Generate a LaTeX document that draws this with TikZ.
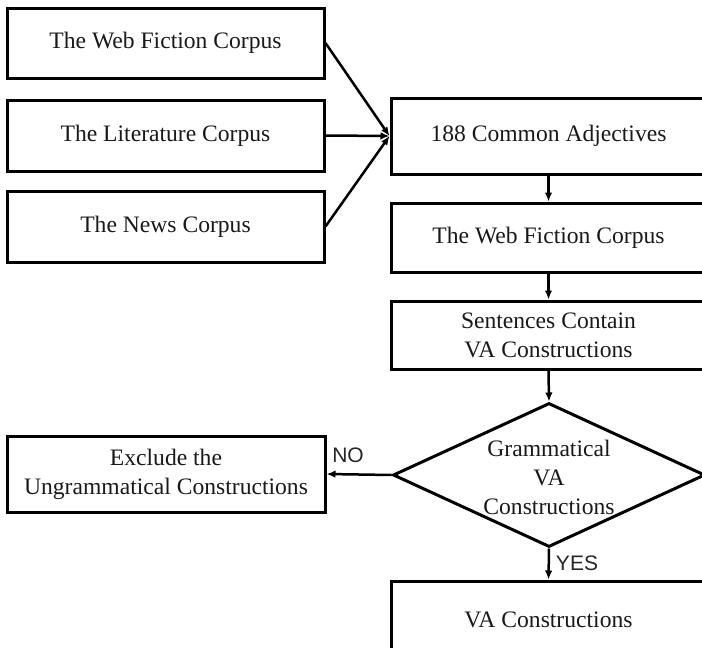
\documentclass[tikz,border=0pt]{standalone}
\usepackage{fontspec}
\setmainfont{Liberation Serif}
\newfontfamily\labelsans{Liberation Sans}
\usetikzlibrary{shapes.geometric,arrows.meta}
\begin{document}
\begin{tikzpicture}[x=0.5pt,y=-0.5pt,
  box/.style={draw, line width=1.5pt, rectangle, inner sep=0pt,
    font=\fontsize{11.8pt}{14.5pt}\selectfont, text=black!90, align=center},
  leftbox/.style={box, minimum width=158.5pt},
  rightbox/.style={box, minimum width=157.5pt},
  decision/.style={draw, line width=1.5pt, diamond, inner sep=0pt,
    minimum width=156pt, minimum height=72pt},
  plain/.style={inner sep=0pt, font=\fontsize{11.8pt}{14.5pt}\selectfont,
    text=black!90, align=center},
  flow/.style={line width=1.25pt, -{Latex[length=4.5pt,width=3.8pt]}},
  tag/.style={font=\labelsans\fontsize{10.5pt}{12pt}\selectfont, inner sep=0pt, text=black!85}]
\useasboundingbox (0,0) rectangle (702,648);
\clip (0,0) rectangle (702,648);

% source corpora
\node[leftbox, minimum height=35pt]   (webA) at (165.5,43)    {The Web Fiction Corpus};
\node[leftbox, minimum height=35.5pt] (lit)  at (165.5,135.5) {The Literature Corpus};
\node[leftbox, minimum height=35.5pt] (news) at (165.5,226.5) {The News Corpus};

% main chain
\node[rightbox, minimum height=38pt]   (adj)  at (548.5,136)   {188 Common Adjectives};
\node[rightbox, minimum height=34.5pt] (webB) at (548.5,237.5) {The Web Fiction Corpus};
\node[rightbox, minimum height=34pt]   (sent) at (548.5,335)   {Sentences Contain\\VA Constructions};
\node[decision] (gram) at (549,475) {};
\node[plain] (gramtext) at (549,477) {Grammatical\\VA\\Constructions};
\node[leftbox, minimum width=159pt, minimum height=38pt] (excl) at (166,474)
  {Exclude the\\Ungrammatical Constructions};
\node[rightbox, minimum height=39pt] (va) at (548.5,620) {VA Constructions};

% connectors
\draw[flow] (webA.east) -- (adj.west);
\draw[flow] (lit.east)  -- (adj.west);
\draw[flow] (news.east) -- (adj.west);
\draw[flow] (adj.south)  -- (webB.north);
\draw[flow] (webB.south) -- (sent.north);
\draw[flow] (sent.south) -- (gram.north);
\draw[flow] (gram.west)  -- (excl.east);
\draw[flow] (gram.south) -- (va.north);

% branch labels
\node[tag] (no)  at (348,455) {NO};
\node[tag] (yes) at (577,563) {YES};
\end{tikzpicture}
\end{document}
